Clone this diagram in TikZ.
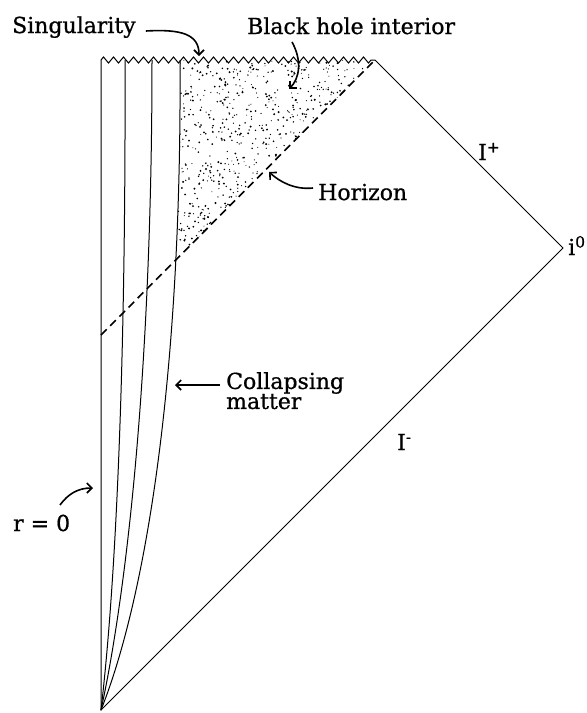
\documentclass[tikz,border=0pt]{standalone}
\usepackage{fontspec}
\setmainfont{DejaVu Serif}[FakeBold=0.8]
\usetikzlibrary{arrows.meta,decorations.pathmorphing}
\begin{document}
\begin{tikzpicture}[x=1pt, y=-1pt,
    every node/.style={font=\fontsize{22}{20}\selectfont, inner sep=0pt},
    world/.style={line width=1pt},
    shell/.style={line width=1pt},
    horizon/.style={line width=1.6pt, dash pattern=on 8pt off 5pt},
    tag/.style={anchor=base west},
    pointer/.style={line width=1.6pt, -{Straight Barb[length=5pt, width=10pt, line width=1.6pt]}}]
  \useasboundingbox (0,0) rectangle (587,713);
  \coordinate (bot) at (101,710);
  \coordinate (top) at (375,60);
  \coordinate (corner) at (101,60);
  \coordinate (izero) at (563,248);
  \coordinate (hend) at (101,335);
  % stippled interior
  \begin{scope}
    \clip (corner) -- (top) -- (hend) -- cycle;
    \clip (bot) .. controls (145,600) and (182,380) .. (180,60) -- (400,60) -- (400,710) -- cycle;
    \pgfmathsetseed{11}
    \foreach \k in {1,...,1100}
      \fill ({276+98*rand},{158+98*rand}) circle ({0.5pt+0.6pt*rnd});
  \end{scope}
  \draw[world] (corner) -- (bot) -- (izero) -- (top);
  \draw[world, decorate, decoration={zigzag, segment length=10pt, amplitude=3pt}] (corner) -- (top);
  \draw[shell] (bot) .. controls (115,590) and (126,380) .. (125,60);
  \draw[shell] (bot) .. controls (125,600) and (152,380) .. (152,60);
  \draw[shell] (bot) .. controls (145,600) and (182,380) .. (180,60);
  \draw[horizon] (hend) -- (top);
  % labels
  \node[tag] (sing) at (12,33) {Singularity};
  \node[tag] (bhi) at (247,34) {Black hole interior};
  \node[tag] (hor) at (318,200) {Horizon};
  \node[tag] (scrip) at (478,160) {I\textsuperscript{+}};
  \node[tag] (izlab) at (568,255) {i\textsuperscript{0}};
  \node[tag] (scrim) at (397,450) {I\textsuperscript{-}};
  \node[anchor=north west, align=left] (coll) at (226,372) {Collapsing\\matter};
  \node[tag] (rzero) at (13,531) {r = 0};
  \coordinate (singpt) at (199,56);
  \coordinate (bhipt) at (289,89);
  \coordinate (horpt) at (269,172);
  \coordinate (collpt) at (175,385);
  \coordinate (rpt) at (93,488);
  \draw[pointer] ([shift={(10,-2)}]sing.base east) .. controls +(35,-2) and +(0,-22) .. (singpt);
  \draw[pointer] ([shift={(45,8)}]bhi.base west) .. controls +(10,18) and +(11,-11) .. (bhipt);
  \draw[pointer] ([shift={(-5,-12)}]hor.base west) .. controls +(-18,2) and +(11,10) .. (horpt);
  \draw[pointer] ([shift={(-6,13)}]coll.north west) -- (collpt);
  \draw[pointer] ([shift={(47,-26)}]rzero.base west) .. controls +(8,-11) and +(-15,0) .. (rpt);
\end{tikzpicture}
\end{document}
